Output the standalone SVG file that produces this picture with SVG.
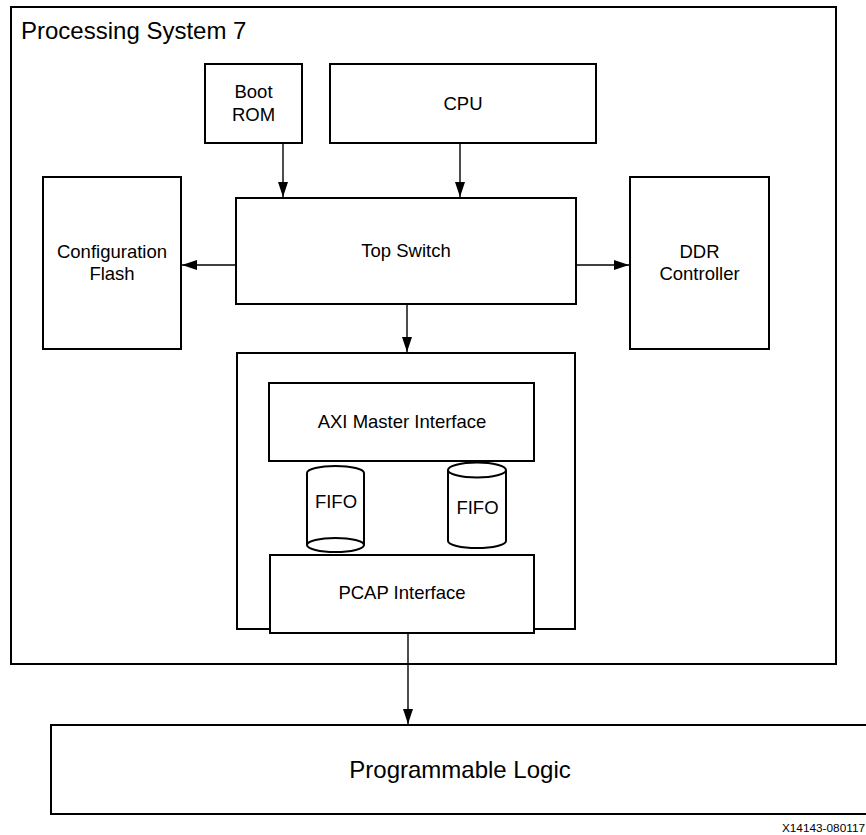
<svg xmlns="http://www.w3.org/2000/svg" width="866" height="835" viewBox="0 0 866 835">
  <defs>
    <marker id="arr" markerWidth="15" markerHeight="10" refX="15" refY="5" orient="auto" markerUnits="userSpaceOnUse" viewBox="0 0 15 10">
      <path d="M0,0 L15,5 L0,10 Z" fill="#000"/>
    </marker>
    <style>
      .box { fill: #fff; stroke: #000; stroke-width: 2; }
      .cyl { fill: #fff; stroke: #000; stroke-width: 2; }
      .t { font-family: "Liberation Sans", Arial, sans-serif; font-size: 18.5px; fill: #000; text-anchor: middle; }
      .conn { stroke: #000; stroke-width: 1.4; fill: none; marker-end: url(#arr); }
    </style>
  </defs>
  <rect width="866" height="835" fill="#fff"/>

  <g id="ps7">
    <rect class="box" x="11" y="7" width="825" height="657"/>
    <text x="21" y="39" font-family="Liberation Sans, Arial, sans-serif" font-size="24" fill="#000">Processing System 7</text>
  </g>

  <g id="bootrom">
    <rect class="box" x="205" y="64" width="97" height="79"/>
    <text class="t" x="253.5" y="98">Boot</text>
    <text class="t" x="253.5" y="121">ROM</text>
  </g>

  <g id="cpu">
    <rect class="box" x="330" y="64" width="266" height="79"/>
    <text class="t" x="463" y="110">CPU</text>
  </g>

  <g id="topswitch">
    <rect class="box" x="236" y="198" width="340" height="106"/>
    <text class="t" x="406" y="257">Top Switch</text>
  </g>

  <g id="configflash">
    <rect class="box" x="43" y="177" width="138" height="172"/>
    <text class="t" x="112" y="258">Configuration</text>
    <text class="t" x="112" y="280">Flash</text>
  </g>

  <g id="ddr">
    <rect class="box" x="630" y="177" width="139" height="172"/>
    <text class="t" x="699.5" y="258">DDR</text>
    <text class="t" x="699.5" y="280">Controller</text>
  </g>

  <g id="devcfg">
    <rect class="box" x="237" y="353" width="338" height="276"/>
  </g>

  <g id="axi">
    <rect class="box" x="269" y="383" width="265" height="78"/>
    <text class="t" x="402" y="428">AXI Master Interface</text>
  </g>

  <g id="fifo1">
    <path class="cyl" d="M307,545 L307,473 A28.5,7 0 0 1 364,473 L364,545"/>
    <ellipse class="cyl" cx="335.5" cy="545" rx="28.5" ry="7"/>
    <text class="t" x="336" y="508">FIFO</text>
  </g>

  <g id="fifo2">
    <path class="cyl" d="M448,470 L448,541 A29,7 0 0 0 506,541 L506,470"/>
    <ellipse class="cyl" cx="477" cy="470" rx="29" ry="7.5"/>
    <text class="t" x="477.5" y="514">FIFO</text>
  </g>

  <g id="pcap">
    <rect class="box" x="270" y="555" width="264" height="78"/>
    <text class="t" x="402" y="599">PCAP Interface</text>
  </g>

  <g id="pl">
    <rect class="box" x="51" y="725" width="818" height="89"/>
    <text x="460" y="778" font-family="Liberation Sans, Arial, sans-serif" font-size="24" fill="#000" text-anchor="middle">Programmable Logic</text>
  </g>

  <g id="figlabel">
    <text x="865" y="832" font-family="Liberation Sans, Arial, sans-serif" font-size="11.8" fill="#000" text-anchor="end">X14143-080117</text>
  </g>

  <g id="connectors">
    <line class="conn" x1="283" y1="143" x2="283" y2="197"/>
    <line class="conn" x1="460" y1="143" x2="460" y2="197"/>
    <line class="conn" x1="236" y1="265" x2="182" y2="265"/>
    <line class="conn" x1="576" y1="265" x2="629" y2="265"/>
    <line class="conn" x1="407" y1="304" x2="407" y2="352"/>
    <line class="conn" x1="408" y1="633" x2="408" y2="724"/>
  </g>
</svg>
